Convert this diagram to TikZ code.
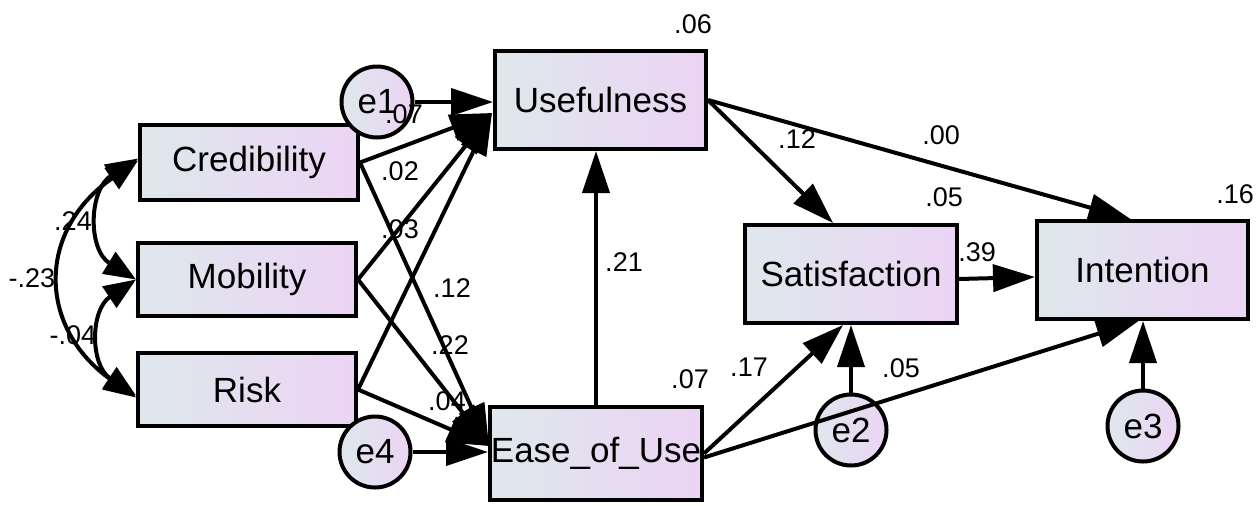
\documentclass[tikz,border=0pt]{standalone}
\usepackage{fontspec}
\setmainfont{Liberation Sans}
\usetikzlibrary{arrows.meta}
\definecolor{cA}{RGB}{222,232,236}
\definecolor{cB}{RGB}{236,212,244}
\begin{document}
\begin{tikzpicture}[x=0.5pt,y=-0.5pt,
  box/.style={draw, line width=2pt, left color=cA, right color=cB, inner sep=0pt, font=\fontsize{17.5}{20}\selectfont},
  lat/.style={circle, draw, line width=2pt, left color=cA, right color=cB, inner sep=0pt, minimum size=35.5pt, font=\fontsize{17.5}{20}\selectfont},
  arr/.style={line width=2pt, -{Triangle[length=21pt,width=13.5pt]}},
  dbl/.style={line width=2pt, {Triangle[length=16pt,width=12.5pt]}-{Triangle[length=16pt,width=12.5pt]}},
  lab/.style={font=\fontsize{13.5}{16}\selectfont, inner sep=0pt}]
\useasboundingbox (0,0) rectangle (1256,505);
% boxes
\node[box, minimum width=109pt, minimum height=37.5pt] (cred) at (249,162.5) {Credibility};
\node[box, minimum width=109pt, minimum height=36.5pt] (mob) at (247,279.5) {Mobility};
\node[box, minimum width=109pt, minimum height=36.5pt] (risk) at (247,389.5) {Risk};
\node[box, minimum width=105.5pt, minimum height=49pt] (use) at (600.5,100) {Usefulness};
\node[box, minimum width=106pt, minimum height=46.5pt] (ease) at (596,453.5) {Ease\_of\_Use};
\node[box, minimum width=106pt, minimum height=49pt] (sat) at (851,274) {Satisfaction};
\node[box, minimum width=105.5pt, minimum height=49pt] (int) at (1142.5,270) {Intention};
% latent error circles
\node[lat] (e1) at (377,102) {e1};
\node[lat] (e4) at (375,452) {e4};
\node[lat] (e2) at (851,430) {e2};
\node[lat] (e3) at (1143,426) {e3};
% convergence points
\coordinate (uin) at (492,113);
\coordinate (ein) at (489,446);
% arrows
\draw[arr] (e1) -- (e1 -| use.west);
\draw[arr] (cred.east) -- (uin);
\draw[arr] (mob.east) -- (uin);
\draw[arr] (risk.east) -- (uin);
\draw[arr] (cred.east) -- (ein);
\draw[arr] (mob.east) -- (ein);
\draw[arr] (risk.east) -- (ein);
\draw[arr] (e4) -- (e4 -| ease.west);
\draw[arr] (ease.north) -- (ease.north |- use.south);
\draw[arr] (use.east) -- ([xshift=-9pt]sat.north);
\draw[arr] (use.east) -- ([xshift=-6pt]int.north);
\draw[arr] ([yshift=-2.5pt]sat.east) -- ([yshift=-3.5pt]int.west);
\draw[arr] (ease.east) -- ([xshift=-4pt]sat.south);
\draw[arr] ([yshift=-2pt]ease.east) -- ([xshift=-2pt]int.south);
\draw[arr] (e2.north) -- (sat.south);
\draw[arr] (e3.north) -- (e3.north |- int.south);
% covariances
\draw[dbl] ([yshift=2pt]cred.west) .. controls (88,190) and (88,250) .. (mob.west);
\draw[dbl] (mob.west) .. controls (90,310) and (90,365) .. ([yshift=-3pt]risk.west);
\draw[dbl] ([yshift=1pt]cred.west) .. controls (37,230) and (37,327) .. ([yshift=-4pt]risk.west);
% labels
\node[lab] (l06) at (693,24) {.06};
\node[lab] (l05s) at (944,197) {.05};
\node[lab] (l16) at (1235,194) {.16};
\node[lab] (l07e) at (690,379) {.07};
\node[lab] (l12u) at (797,139) {.12};
\node[lab] (l00) at (941,135) {.00};
\node[lab] (l21) at (624,262) {.21};
\node[lab] (l17) at (749,367) {.17};
\node[lab] (l05e) at (901,368) {.05};
\node[lab] (l39) at (977,252) {.39};
\node[lab] (l07) at (404,114) {.07};
\node[lab] (l02) at (400,171) {.02};
\node[lab] (l03) at (400,229) {.03};
\node[lab] (l12) at (452,288) {.12};
\node[lab] (l22) at (450,345) {.22};
\node[lab] (l04) at (447,401) {.04};
\node[lab] (l24) at (73,221) {.24};
\node[lab] (l23) at (32,278) {-.23};
\node[lab] (l04b) at (73,335) {-.04};
\end{tikzpicture}
\end{document}
